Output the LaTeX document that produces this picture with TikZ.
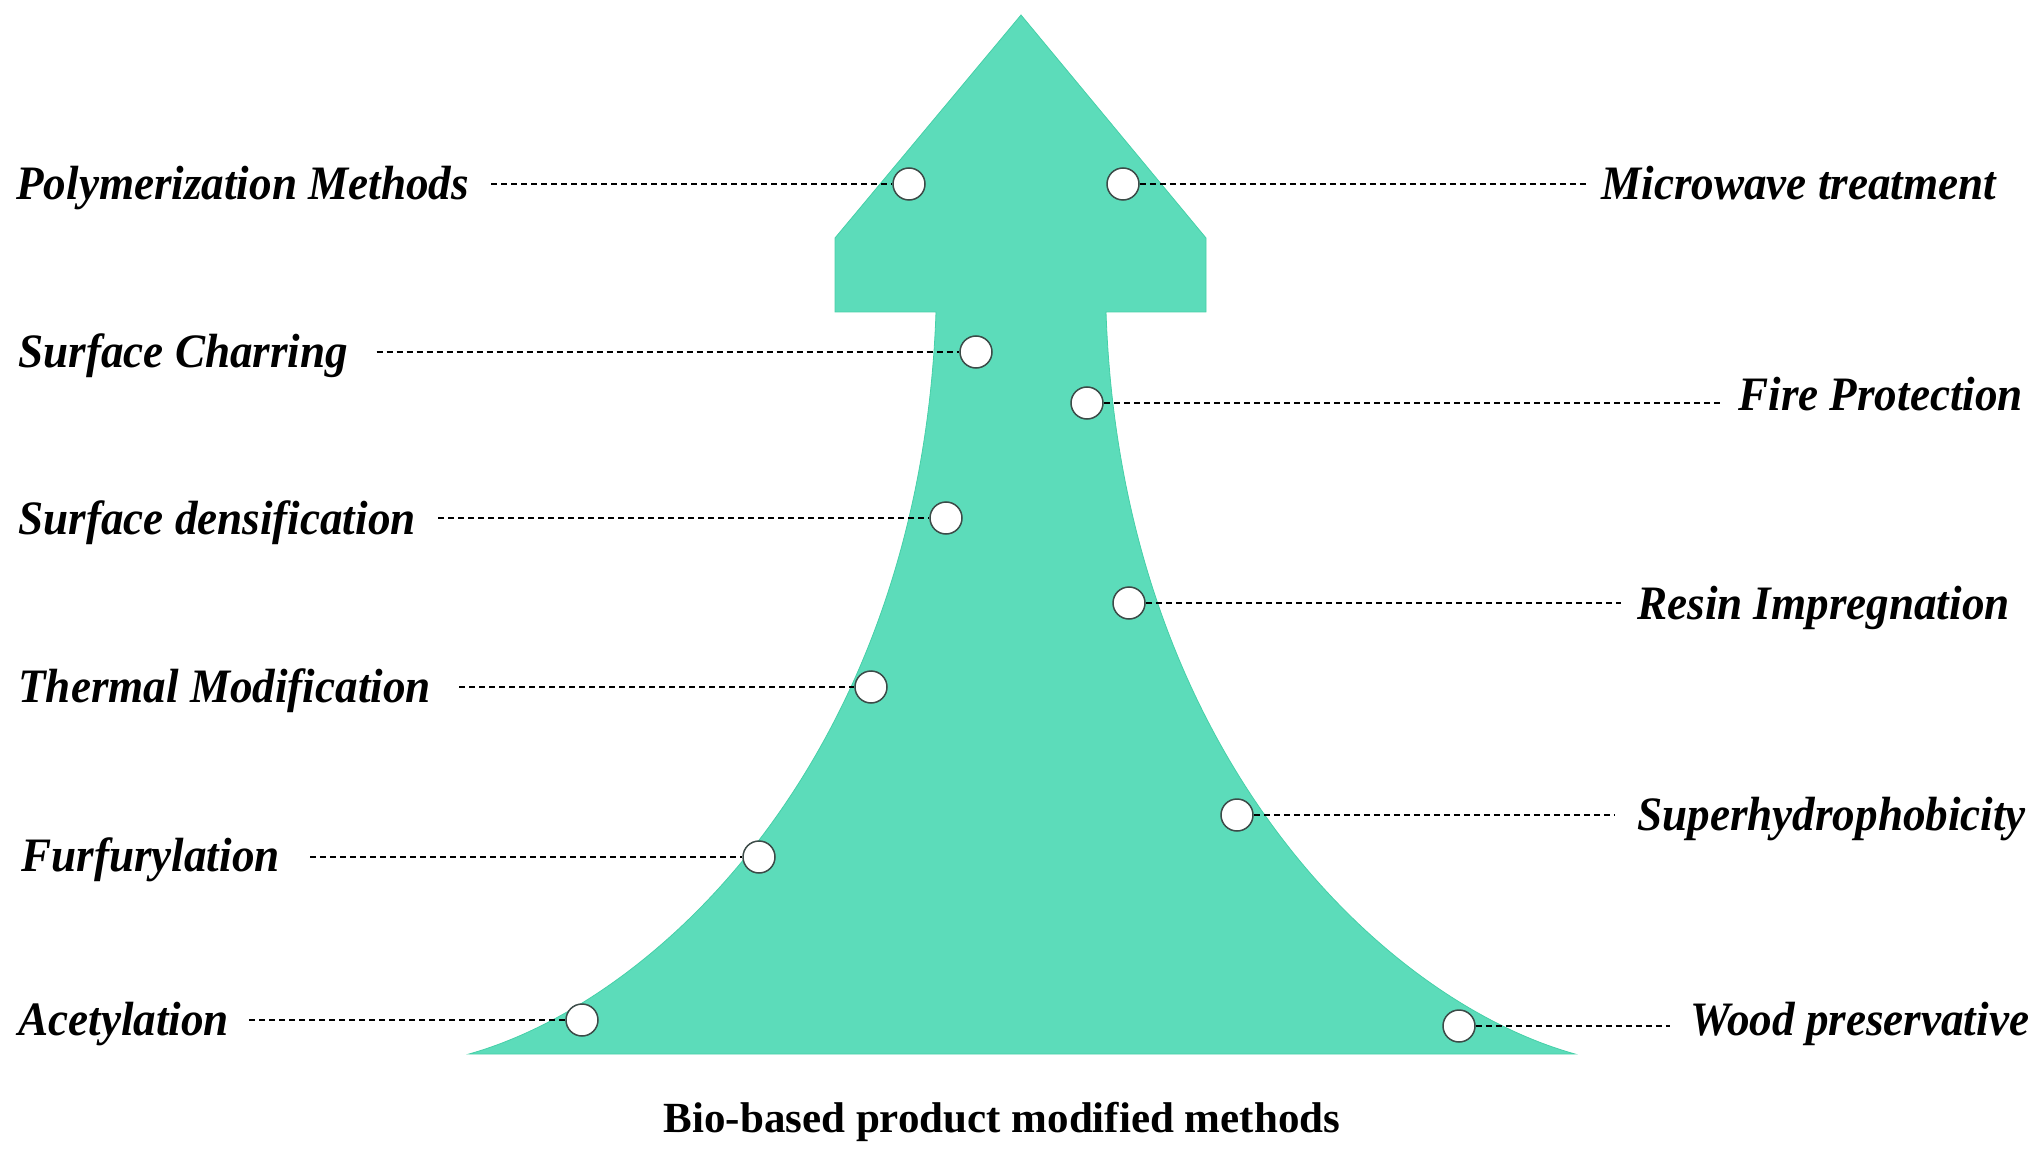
\documentclass[tikz,border=0pt]{standalone}
\usepackage{fontspec}
\setmainfont{Liberation Serif}
\newfontfamily\lblfont[FakeStretch=0.94]{Liberation Serif}
\definecolor{arrowfill}{RGB}{92,220,186}
\definecolor{arrowedge}{RGB}{70,208,168}
\definecolor{ringgray}{RGB}{60,75,72}
\begin{document}
\begin{tikzpicture}[x=0.5pt,y=-0.5pt,
  lbl/.style={inner sep=0pt,anchor=base west,font=\lblfont\fontsize{24pt}{28pt}\selectfont\bfseries\itshape},
  dot/.style={circle,draw=ringgray,fill=white,line width=0.75pt,minimum size=16pt,inner sep=0pt},
  leader/.style={line width=1.4pt,dash pattern=on 3pt off 2pt}]
\useasboundingbox (0,0) rectangle (2041,1155);
% arrow
\fill[arrowfill,draw=arrowedge,line width=0.4pt] (1021,15) -- (1206,238) -- (1206,312) -- (1106,312)
  .. controls (1121,750) and (1381,1000) .. (1575,1054)
  -- (469,1054)
  .. controls (661,1000) and (921,750) .. (936,312)
  -- (835,312) -- (835,238) -- cycle;
% circles
\node[dot] (c1) at (909,184) {};
\node[dot] (c2) at (976,352) {};
\node[dot] (c3) at (946,518) {};
\node[dot] (c4) at (871,687) {};
\node[dot] (c5) at (759,857) {};
\node[dot] (c6) at (582,1020) {};
\node[dot] (d1) at (1123,184) {};
\node[dot] (d2) at (1087,403) {};
\node[dot] (d3) at (1129,603) {};
\node[dot] (d4) at (1237,815) {};
\node[dot] (d5) at (1459,1026) {};
% left labels
\node[lbl] (l1) at (16,200) {Polymerization Methods};
\node[lbl] (l2) at (18,367) {Surface Charring};
\node[lbl] (l3) at (18,534) {Surface densification};
\node[lbl] (l4) at (18,702) {Thermal Modification};
\node[lbl] (l5) at (21,871) {Furfurylation};
\node[lbl] (l6) at (18,1035) {Acetylation};
% right labels
\node[lbl] (r1) at (1601,200) {Microwave treatment};
\node[lbl] (r2) at (1738,410) {Fire Protection};
\node[lbl] (r3) at (1637,619) {Resin Impregnation};
\node[lbl] (r4) at (1637,830) {Superhydrophobicity};
\node[lbl] (r5) at (1690,1035) {Wood preservative};
% bottom caption
\node[inner sep=0pt,anchor=base,font=\fontsize{21.5pt}{26pt}\selectfont\bfseries] (cap) at (1002,1132) {Bio-based product modified methods};
% leaders
\draw[leader,shorten <=11pt] (l1.east |- c1) -- (c1.west);
\draw[leader,shorten <=14pt] (l2.east |- c2) -- (c2.west);
\draw[leader,shorten <=11pt] (l3.east |- c3) -- (c3.west);
\draw[leader,shorten <=14pt] (l4.east |- c4) -- (c4.west);
\draw[leader,shorten <=15pt] (l5.east |- c5) -- (c5.west);
\draw[leader,shorten <=10pt] (l6.east |- c6) -- (c6.west);
\draw[leader,shorten >=7pt] (d1.east) -- (r1.west |- d1);
\draw[leader,shorten >=8pt] (d2.east) -- (r2.west |- d2);
\draw[leader,shorten >=8pt] (d3.east) -- (r3.west |- d3);
\draw[leader,shorten >=11pt] (d4.east) -- (r4.west |- d4);
\draw[leader,shorten >=10pt] (d5.east) -- (r5.west |- d5);
\end{tikzpicture}
\end{document}
